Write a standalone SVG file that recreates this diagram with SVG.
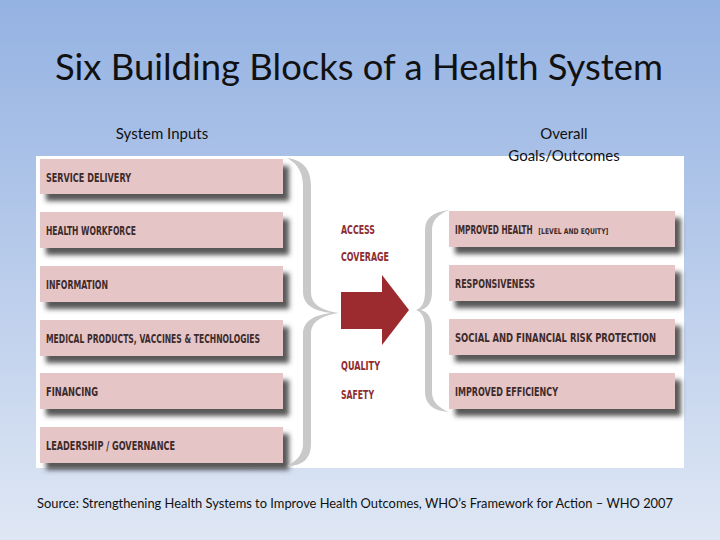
<svg xmlns="http://www.w3.org/2000/svg" width="720" height="540" viewBox="0 0 720 540">
<defs>
<linearGradient id="bg" x1="0" y1="0" x2="0" y2="1">
<stop offset="0" stop-color="#94b2e2"/>
<stop offset="0.5" stop-color="#b9cceb"/>
<stop offset="1" stop-color="#dfe7f4"/>
</linearGradient>
<filter id="sh" x="-10%" y="-30%" width="130%" height="180%">
<feDropShadow dx="6" dy="7" stdDeviation="2.5" flood-color="#3a3a3a" flood-opacity="0.85"/>
</filter>
<style>
.box{fill:#e5c5c6;filter:url(#sh);}
.lbl{font-family:"Liberation Sans Narrow","DejaVu Sans Condensed","DejaVu Sans",sans-serif;font-weight:bold;font-size:12px;fill:#3d2b2c;}
.sm{font-size:8px;}
.mid{font-family:"Liberation Sans Narrow","DejaVu Sans Condensed","DejaVu Sans",sans-serif;font-weight:bold;font-size:12px;fill:#8e2c31;}
.hdr{font-family:Lato,"Open Sans",sans-serif;font-size:15px;fill:#111;text-anchor:middle;}
.brace{fill:#c9c9c9;}
</style>
</defs>
<rect width="720" height="540" fill="url(#bg)"/>
<text x="359" y="80" font-family="Lato,'Open Sans',sans-serif" font-size="36" fill="#111" text-anchor="middle" textLength="608" lengthAdjust="spacingAndGlyphs">Six Building Blocks of a Health System</text>
<rect x="36" y="156" width="648" height="312" fill="#ffffff"/>
<text class="hdr" x="162" y="139">System Inputs</text>
<text class="hdr" x="564" y="139">Overall</text>
<text class="hdr" x="564" y="161">Goals/Outcomes</text>

<g id="inputs">
<g id="service-delivery"><rect class="box" x="40" y="159" width="243" height="35"/><text class="lbl" x="46" y="181.5" textLength="85" lengthAdjust="spacingAndGlyphs">SERVICE DELIVERY</text></g>
<g id="health-workforce"><rect class="box" x="40" y="212" width="243" height="36"/><text class="lbl" x="46" y="235" textLength="90" lengthAdjust="spacingAndGlyphs">HEALTH WORKFORCE</text></g>
<g id="information"><rect class="box" x="40" y="266" width="243" height="36"/><text class="lbl" x="46" y="289" textLength="62" lengthAdjust="spacingAndGlyphs">INFORMATION</text></g>
<g id="medical-products"><rect class="box" x="40" y="320" width="243" height="36"/><text class="lbl" x="46" y="343" textLength="214" lengthAdjust="spacingAndGlyphs">MEDICAL PRODUCTS, VACCINES &amp; TECHNOLOGIES</text></g>
<g id="financing"><rect class="box" x="40" y="373" width="243" height="36"/><text class="lbl" x="46" y="396" textLength="52" lengthAdjust="spacingAndGlyphs">FINANCING</text></g>
<g id="leadership"><rect class="box" x="40" y="427" width="243" height="36"/><text class="lbl" x="46" y="450" textLength="129" lengthAdjust="spacingAndGlyphs">LEADERSHIP / GOVERNANCE</text></g>
</g>

<g id="outcomes">
<g id="improved-health"><rect class="box" x="449" y="211" width="226" height="36"/>
<g transform="translate(455,234) scale(0.7,1)"><text class="lbl" x="0" y="0" textLength="111" lengthAdjust="spacingAndGlyphs">IMPROVED HEALTH</text><text class="lbl sm" x="119" y="0" textLength="100" lengthAdjust="spacingAndGlyphs">[LEVEL AND EQUITY]</text></g></g>
<g id="responsiveness"><rect class="box" x="449" y="265" width="226" height="36"/><text class="lbl" x="455" y="288" textLength="80" lengthAdjust="spacingAndGlyphs">RESPONSIVENESS</text></g>
<g id="risk-protection"><rect class="box" x="449" y="319" width="226" height="36"/><text class="lbl" x="455" y="342" textLength="201" lengthAdjust="spacingAndGlyphs">SOCIAL AND FINANCIAL RISK PROTECTION</text></g>
<g id="improved-efficiency"><rect class="box" x="449" y="373" width="226" height="36"/><text class="lbl" x="455" y="396" textLength="103" lengthAdjust="spacingAndGlyphs">IMPROVED EFFICIENCY</text></g>
</g>

<g id="connectors">
<path class="brace" d="M287,158 C302,160 311,168 311,186 L311,292 C311,303 319,310 339,313 C319,316 311,323 311,334 L311,444 C311,459 302,466 287,466 C297,461 303,454 303,444 L303,334 C303,322 313,315 331,313 C313,311 303,304 303,292 L303,186 C303,173 298,164 287,158 Z"/>
<path class="brace" d="M449,210 C433,212 425,218 425,230 L425,292 C425,302 422,308 416,310 C422,312 425,318 425,328 L425,392 C425,404 433,411 449,412 C439,408 432,402 432,392 L432,328 C432,318 428,312 421,310 C428,308 432,302 432,292 L432,230 C432,220 439,214 449,210 Z"/>
<path id="arrow" d="M341,292 L382,292 L382,275 L409,310 L382,345 L382,329 L341,329 Z" fill="#9c2b30"/>
</g>

<g id="dimensions">
<text class="mid" x="341" y="234" textLength="34" lengthAdjust="spacingAndGlyphs">ACCESS</text>
<text class="mid" x="341" y="261" textLength="48" lengthAdjust="spacingAndGlyphs">COVERAGE</text>
<text class="mid" x="341" y="370" textLength="39" lengthAdjust="spacingAndGlyphs">QUALITY</text>
<text class="mid" x="341" y="399" textLength="33" lengthAdjust="spacingAndGlyphs">SAFETY</text>
</g>

<text x="37" y="508" font-family="Lato,'Open Sans',sans-serif" font-size="13" fill="#111" textLength="636" lengthAdjust="spacingAndGlyphs">Source: Strengthening Health Systems to Improve  Health Outcomes, WHO’s Framework for Action – WHO 2007</text>
</svg>
